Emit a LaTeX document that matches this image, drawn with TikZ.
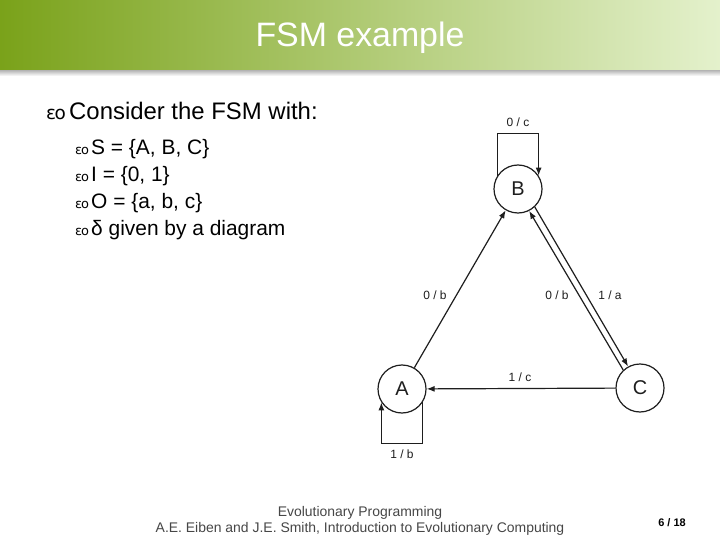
\documentclass[tikz,border=0pt]{standalone}
\usepackage{fontspec}
\setmainfont{Liberation Sans}
\newfontfamily\dejavu{DejaVu Sans}
\usetikzlibrary{arrows.meta,calc}
\definecolor{barleft}{RGB}{122,162,26}
\definecolor{barmid}{RGB}{178,206,104}
\definecolor{barright}{RGB}{228,241,204}
\definecolor{fsmline}{RGB}{30,30,30}
\definecolor{foot}{RGB}{70,70,70}
\newcommand\mybul[1]{{\dejavu\fontsize{#1}{#1}\selectfont ɛ\kern-0.08em o}}
\begin{document}
\begin{tikzpicture}[x=1bp,y=-1bp,
  state/.style={circle, draw=fsmline, line width=1.2bp, minimum size=48bp, inner sep=0pt,
    font=\fontsize{20}{20}\selectfont, text=fsmline},
  lab/.style={font=\fontsize{12}{12}\selectfont, text=fsmline, inner sep=0pt},
  arr/.style={draw=fsmline, line width=1.2bp, -{Latex[length=8bp,width=6bp]}},
  maintext/.style={anchor=base west, inner sep=0pt, font=\fontsize{24}{24}\selectfont},
  subtext/.style={anchor=base west, inner sep=0pt, font=\fontsize{21}{21}\selectfont},
  bulnode/.style={anchor=base west, inner sep=0pt}]
\useasboundingbox (0,0) rectangle (720,540);
\fill[white] (0,0) rectangle (720,540);
% title bar
\shade[top color=black!30, bottom color=white] (0,70) rectangle (720,76);
\shade[left color=barleft, middle color=barmid, right color=barright] (0,0) rectangle (720,70);
\node[anchor=base, inner sep=0pt, text=white, font=\fontsize{34}{34}\selectfont] (title) at (360,47) {FSM example};
% text
\node[bulnode] (b0) at (46,120) {\mybul{18.5}};
\node[maintext] (t0) at (69,120) {Consider the FSM with:};
\node[bulnode] (b1) at (75,154.5) {\mybul{13}};
\node[subtext] (t1) at (91,154.5) {S = \{A, B, C\}};
\node[bulnode] (b2) at (75,181.5) {\mybul{13}};
\node[subtext] (t2) at (91,181.5) {I = \{0, 1\}};
\node[bulnode] (b3) at (75,208.5) {\mybul{13}};
\node[subtext] (t3) at (91,208.5) {O = \{a, b, c\}};
\node[bulnode] (b4) at (75,235.5) {\mybul{13}};
\node[subtext] (t4) at (91,235.5) {δ given by a diagram};
% FSM
\node[state] (B) at (518,189) {B};
\node[state] (A) at (402,389) {A};
\node[state] (C) at (640,388) {C};
\draw[arr] (B.147) -- ++(0,-42) -| (B.33);
\draw[arr] (A.-33) -- ++(0,41) -| (A.213);
\draw[arr] (A) -- (B);
\draw[arr] (B.-47) -- (C.119);
\draw[arr] (C.133) -- (B.-63);
\draw[arr] (C) -- (A);
\node[lab] (l0c) at (518,122) {0 / c};
\node[lab] (l1b) at (402,454) {1 / b};
\node[lab] (l0bA) at (435,295) {0 / b};
\node[lab] (l0bC) at (557,295) {0 / b};
\node[lab] (l1a) at (610,295) {1 / a};
\node[lab] (l1c) at (520,377) {1 / c};
% footer
\node[anchor=base, inner sep=0pt, text=foot, font=\fontsize{14}{14}\selectfont] (f1) at (360,516) {Evolutionary Programming};
\node[anchor=base, inner sep=0pt, text=foot, font=\fontsize{14}{14}\selectfont] (f2) at (360,532) {A.E. Eiben and J.E. Smith, Introduction to Evolutionary Computing};
\node[anchor=base, inner sep=0pt, text=black, font=\bfseries\fontsize{11}{11}\selectfont] (pg) at (672,526) {6 / 18};
\end{tikzpicture}
\end{document}
